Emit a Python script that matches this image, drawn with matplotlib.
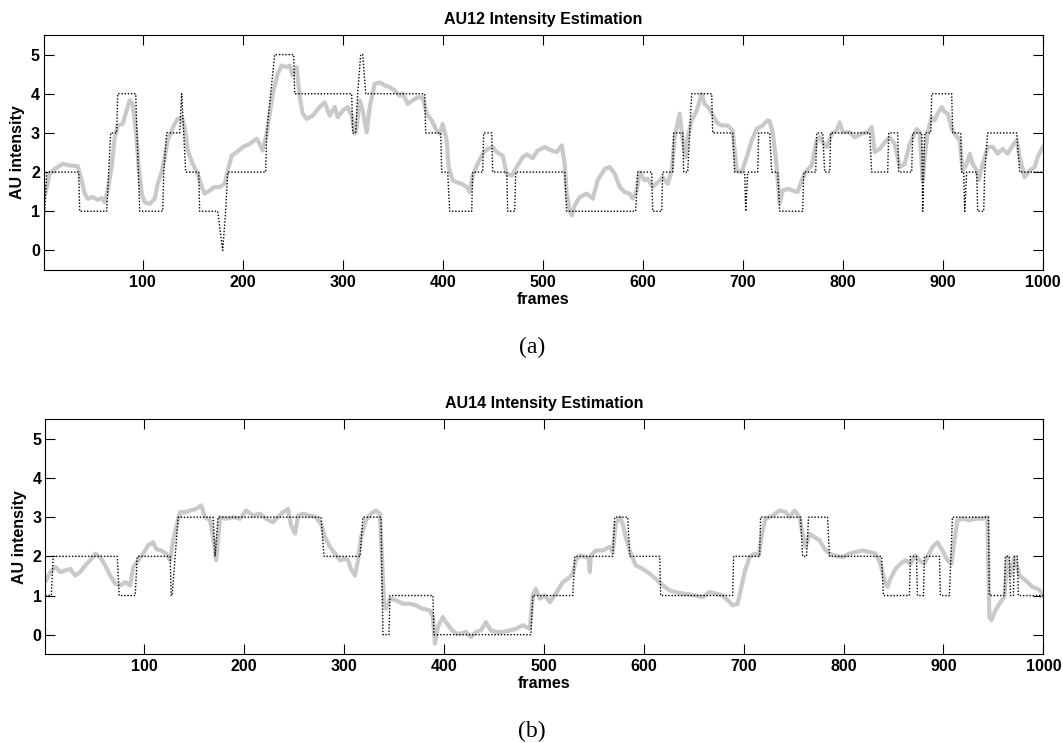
import matplotlib
matplotlib.use("Agg")
import matplotlib.pyplot as plt

## AU12 ground truth (frame, level) breakpoints
gt12_f = [1, 4, 36, 37, 64, 68, 74, 75, 93, 97, 120, 121, 124, 137, 139, 141, 143, 156, 157, 175,
          180, 183, 185, 223, 224, 228, 232, 251, 252, 309, 310, 313, 315, 318, 320, 323, 382, 383,
          398, 399, 405, 407, 429, 430, 440, 441, 449, 450, 464, 465, 472, 473, 522, 524, 593, 595,
          609, 610, 619, 620, 630, 631, 640, 641, 645, 647, 649, 669, 670, 690, 692, 702, 703, 705,
          715, 716, 727, 729, 735, 737, 760, 761, 773, 774, 780, 782, 787, 788, 827, 829, 845, 846,
          855, 856, 869, 870, 879, 880, 882, 888, 889, 909, 910, 918, 919, 921, 922, 924, 934, 935,
          941, 942, 945, 974, 977, 1000]
gt12_v = [0.5, 2, 2, 1, 1, 3, 3, 4, 4, 1, 1, 2, 3, 3, 4, 3, 2, 2, 1, 1,
          0, 1, 2, 2, 3, 4, 5, 5, 4, 4, 3, 3, 4, 5, 5, 4, 4, 3,
          3, 2, 2, 1, 1, 2, 2, 3, 3, 2, 2, 1, 1, 2, 2, 1, 1, 2,
          2, 1, 1, 2, 2, 3, 3, 2, 2, 3, 4, 4, 3, 3, 2, 2, 1, 2,
          2, 3, 3, 2, 2, 1, 1, 2, 2, 3, 3, 2, 2, 3, 3, 2, 2, 3,
          3, 2, 2, 3, 3, 1, 3, 3, 4, 4, 3, 3, 2, 2, 1, 2, 2, 1,
          1, 2, 3, 3, 2, 2]

## AU12 estimate
est12_f = [1, 4, 7, 12, 20, 27, 35, 39, 42, 45, 50, 55, 59, 62, 65, 69, 72, 75, 80, 84,
           87, 90, 92, 94, 96, 99, 102, 107, 112, 115, 119, 122, 125, 129, 132, 135, 139, 142, 145, 150,
           155, 159, 162, 167, 172, 177, 182, 185, 189, 194, 200, 207, 214, 217, 220, 224, 227, 230, 235, 239,
           244, 247, 250, 254, 257, 260, 264, 270, 277, 282, 287, 292, 295, 300, 305, 309, 312, 314, 317, 320,
           324, 327, 332, 337, 342, 347, 352, 357, 360, 365, 370, 375, 380, 384, 389, 394, 397, 400, 404, 406,
           410, 414, 419, 424, 427, 430, 435, 440, 445, 450, 454, 460, 464, 469, 474, 480, 484, 490, 495, 502,
           509, 514, 519, 522, 524, 527, 529, 532, 537, 544, 550, 555, 562, 567, 572, 577, 582, 587, 590, 594,
           597, 602, 605, 610, 615, 620, 625, 629, 632, 637, 640, 643, 645, 649, 654, 659, 662, 667, 674, 679,
           685, 690, 694, 699, 704, 709, 714, 720, 725, 727, 730, 733, 737, 740, 745, 750, 755, 759, 764, 769,
           774, 777, 780, 784, 789, 794, 797, 800, 807, 812, 819, 825, 829, 832, 837, 842, 847, 852, 857, 862,
           867, 874, 877, 880, 882, 885, 889, 892, 895, 899, 902, 905, 909, 912, 917, 920, 924, 927, 930, 934,
           936, 940, 945, 950, 955, 960, 965, 970, 974, 977, 982, 987, 992, 995, 1000]
est12_v = [1.30, 1.60, 1.96, 2.08, 2.21, 2.17, 2.15, 1.79, 1.45, 1.32, 1.36, 1.29, 1.34, 1.23, 1.53, 2.13, 2.89, 3.19, 3.23, 3.57,
           3.83, 3.74, 3.32, 2.81, 2.13, 1.45, 1.23, 1.19, 1.32, 1.70, 2.00, 2.38, 2.81, 3.06, 3.23, 3.36, 3.40, 3.15, 2.55, 2.21,
           1.96, 1.62, 1.45, 1.53, 1.62, 1.62, 1.70, 2.04, 2.42, 2.51, 2.64, 2.72, 2.85, 2.72, 2.55, 2.98, 3.49, 4.00, 4.51, 4.72,
           4.68, 4.72, 4.46, 4.68, 3.91, 3.49, 3.36, 3.44, 3.66, 3.78, 3.44, 3.66, 3.40, 3.57, 3.66, 3.44, 2.98, 3.15, 3.83, 3.57,
           3.02, 3.66, 4.25, 4.29, 4.21, 4.17, 4.08, 3.95, 4.01, 3.74, 3.83, 3.91, 3.91, 3.49, 3.32, 3.06, 2.98, 3.23, 2.81, 2.13,
           1.79, 1.74, 1.70, 1.62, 1.49, 1.91, 2.21, 2.47, 2.59, 2.64, 2.51, 2.42, 1.96, 1.91, 2.13, 2.38, 2.45, 2.36, 2.55, 2.64,
           2.55, 2.51, 2.68, 2.21, 1.45, 1.02, 0.89, 1.15, 1.36, 1.45, 1.32, 1.79, 2.08, 2.13, 1.96, 1.62, 1.49, 1.45, 1.32, 1.53,
           2.00, 1.79, 1.83, 1.62, 1.74, 1.87, 1.70, 2.04, 2.89, 3.49, 2.81, 2.38, 2.89, 3.32, 3.57, 4.00, 3.74, 3.61, 3.27, 3.19,
           3.19, 3.06, 2.04, 2.00, 2.38, 2.81, 3.10, 3.19, 3.32, 3.30, 3.00, 2.40, 1.20, 1.53, 1.57, 1.53, 1.49, 1.79, 2.04, 2.17,
           2.81, 2.89, 2.76, 2.64, 2.98, 3.06, 3.27, 3.02, 3.02, 2.89, 2.98, 3.02, 3.15, 2.51, 2.59, 2.76, 2.89, 2.72, 2.13, 2.21,
           2.72, 3.10, 3.02, 1.79, 2.38, 3.02, 3.40, 3.32, 3.49, 3.66, 3.53, 3.49, 3.10, 2.98, 2.81, 2.04, 2.21, 2.47, 2.21, 2.04,
           1.79, 2.21, 2.64, 2.64, 2.47, 2.59, 2.47, 2.68, 2.81, 2.38, 1.87, 2.04, 2.13, 2.38, 2.64]

## AU14 ground truth
gt14_f = [1, 7, 9, 73, 75, 91, 93, 126, 127, 128, 131, 134, 169, 171, 174, 277, 280, 316, 319, 337,
          339, 345, 346, 389, 390, 487, 489, 529, 531, 569, 571, 584, 586, 616, 617, 689, 690, 716, 717, 757,
          759, 763, 765, 784, 786, 838, 840, 866, 867, 873, 874, 880, 881, 896, 897, 906, 909, 945, 946, 961,
          962, 966, 967, 970, 971, 974, 975, 1000]
gt14_v = [1, 1, 2, 2, 1, 1, 2, 2, 1, 1, 2, 3, 3, 2, 3, 3, 2, 2, 3, 3,
          0, 0, 1, 1, 0, 0, 1, 1, 2, 2, 3, 3, 2, 2, 1, 1, 2, 2, 3, 3,
          2, 2, 3, 3, 2, 2, 1, 1, 2, 2, 1, 1, 2, 2, 1, 1, 3, 3, 1, 1,
          2, 2, 1, 1, 2, 2, 1, 1]

## AU14 estimate
est14_f = [2, 6, 11, 16, 21, 26, 31, 36, 41, 46, 51, 56, 61, 66, 71, 76, 81, 86, 89, 94,
           99, 104, 109, 112, 117, 122, 126, 129, 132, 136, 141, 146, 152, 157, 161, 166, 169, 172, 176, 182,
           189, 196, 202, 209, 216, 222, 229, 232, 239, 244, 247, 251, 254, 259, 266, 272, 277, 281, 286, 291,
           296, 301, 304, 307, 311, 314, 317, 322, 327, 332, 336, 338, 340, 342, 346, 352, 359, 366, 372, 379,
           386, 389, 391, 394, 399, 402, 407, 412, 417, 422, 427, 432, 437, 442, 447, 452, 459, 466, 472, 479,
           486, 489, 492, 496, 501, 506, 512, 519, 526, 529, 532, 536, 542, 545, 546, 547, 552, 559, 566, 569,
           572, 576, 579, 582, 587, 592, 599, 606, 612, 619, 626, 632, 639, 646, 652, 659, 666, 672, 679, 686,
           689, 694, 697, 701, 706, 711, 715, 719, 722, 729, 736, 742, 746, 751, 756, 759, 762, 766, 771, 776,
           781, 786, 792, 799, 806, 812, 819, 826, 832, 837, 841, 844, 847, 852, 857, 862, 867, 872, 876, 881,
           884, 889, 894, 899, 904, 908, 911, 914, 919, 926, 932, 939, 944, 946, 948, 952, 957, 961, 964, 967,
           971, 976, 982, 989, 996, 1000]
est14_v = [1.39, 1.60, 1.73, 1.60, 1.64, 1.68, 1.51, 1.60, 1.77, 1.90, 2.07, 1.98, 1.77, 1.51, 1.30, 1.26, 1.34, 1.26, 1.73, 1.90,
           2.07, 2.28, 2.36, 2.19, 2.15, 2.07, 1.90, 2.41, 2.75, 3.13, 3.13, 3.17, 3.21, 3.30, 3.00, 2.92, 2.49, 1.90, 3.00, 2.96,
           3.00, 2.96, 3.17, 3.04, 3.09, 2.96, 2.87, 2.96, 3.13, 3.21, 2.79, 2.58, 3.04, 3.09, 3.04, 3.00, 2.83, 2.49, 2.24, 2.07,
           1.90, 1.94, 1.90, 1.68, 1.51, 1.90, 2.49, 2.92, 3.09, 3.17, 3.09, 1.98, 0.79, 0.66, 0.92, 0.88, 0.79, 0.79, 0.75, 0.66,
           0.62, 0.45, -0.23, 0.20, 0.45, 0.32, 0.15, 0.03, 0.03, 0.07, -0.06, 0.07, 0.11, 0.32, 0.11, 0.07, 0.07, 0.11, 0.15, 0.24,
           0.15, 1.00, 1.17, 0.92, 1.00, 0.83, 1.05, 1.34, 1.47, 1.56, 1.90, 2.02, 1.98, 1.95, 1.60, 2.02, 2.15, 2.15, 2.24, 2.11,
           2.83, 3.00, 2.83, 2.49, 2.07, 1.77, 1.68, 1.56, 1.43, 1.26, 1.13, 1.09, 1.05, 1.03, 1.00, 0.96, 1.09, 1.05, 1.00, 0.83,
           0.75, 0.79, 1.13, 1.60, 1.98, 2.07, 2.02, 2.66, 2.96, 3.04, 3.17, 3.13, 3.00, 3.17, 3.00, 2.58, 2.24, 2.58, 2.49, 2.41,
           2.19, 2.07, 2.02, 1.98, 2.07, 2.11, 2.15, 2.11, 2.07, 1.81, 1.39, 1.22, 1.43, 1.68, 1.81, 1.90, 1.81, 2.02, 1.90, 1.81,
           1.98, 2.24, 2.36, 2.15, 1.90, 1.81, 2.41, 2.92, 2.96, 2.92, 2.96, 2.96, 3.00, 0.45, 0.37, 0.62, 0.83, 0.96, 1.98, 1.51,
           1.98, 1.51, 1.39, 1.22, 1.15, 1.00]

titles = ["AU12 Intensity Estimation", "AU14 Intensity Estimation"]
captions = ["(a)", "(b)"]

plt.rcParams['font.family'] = ['Liberation Sans', 'DejaVu Sans']

fig = plt.figure(figsize=(10.63, 7.43), dpi=100)
ax1 = fig.add_axes([0.0411, 0.6366, 0.9398, 0.3163])
ax2 = fig.add_axes([0.0426, 0.1194, 0.9389, 0.3163])

panels = [(ax1, gt12_f, gt12_v, est12_f, est12_v), (ax2, gt14_f, gt14_v, est14_f, est14_v)]
for i, (ax, gf, gv, ef, ev) in enumerate(panels):
    ax.plot(ef, ev, color='#c9c9c9', lw=3.0, solid_joinstyle='round')
    ax.plot(gf, gv, color='black', lw=1.0, linestyle=(0, (1, 1.3)))
    ax.set_xlim(1, 1000)
    ax.set_ylim(-0.5, 5.5)
    ax.set_xticks(range(100, 1001, 100))
    ax.set_yticks(range(0, 6))
    ax.tick_params(direction='in', length=7, width=0.8, top=True, right=True,
                   labelsize=11.5, pad=3.6)
    ax.tick_params(axis='y', pad=2.7)
    for lab in ax.get_xticklabels() + ax.get_yticklabels():
        lab.set_fontweight('bold')
    for s in ax.spines.values():
        s.set_linewidth(0.8)
    ax.set_title(titles[i], fontsize=11.5, fontweight='bold', pad=8)
    ax.set_xlabel("frames", fontsize=11.5, fontweight='bold')
    ax.set_ylabel("AU intensity", fontsize=11.5, fontweight='bold')
    ax.xaxis.set_label_coords(0.5, -0.094)
    ax.yaxis.set_label_coords(-0.0187, 0.5)

fig.text(0.5005, 0.5253, captions[0], fontsize=17, family=['Liberation Serif', 'DejaVu Serif'],
         ha='center', va='baseline')
fig.text(0.5005, 0.0081, captions[1], fontsize=17, family=['Liberation Serif', 'DejaVu Serif'],
         ha='center', va='baseline')

fig.savefig("out.png", dpi=100)
